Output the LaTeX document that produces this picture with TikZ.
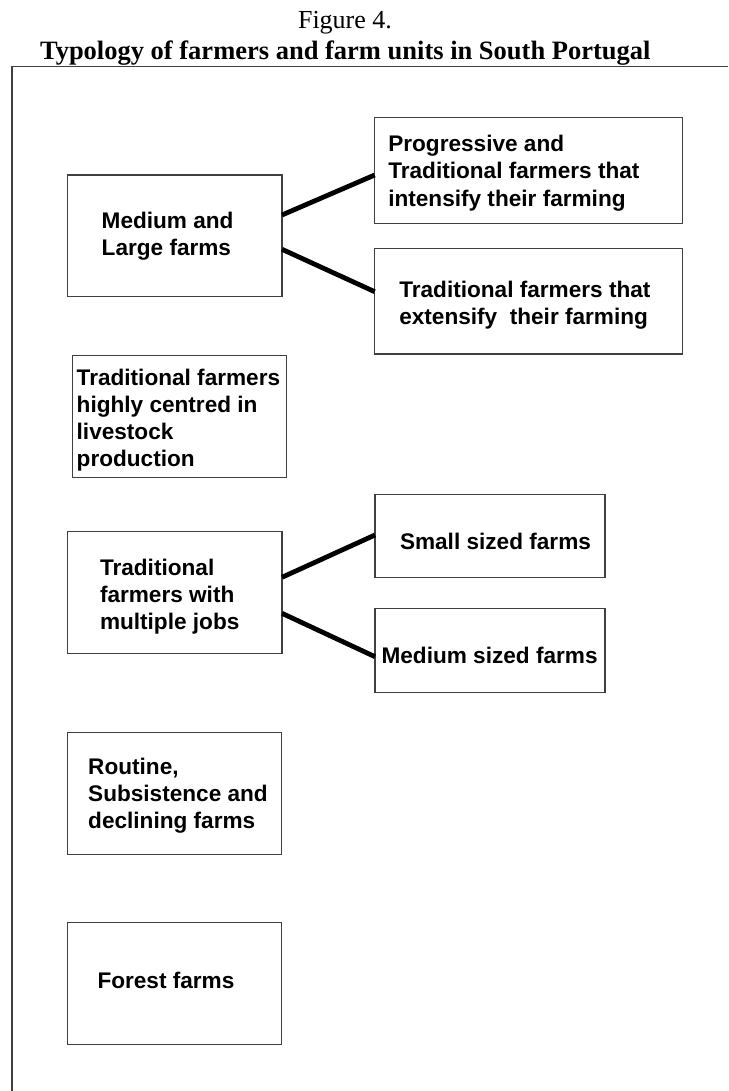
\documentclass[tikz,border=0pt]{standalone}
\usepackage{fontspec}
\setmainfont{Liberation Serif}
\newfontfamily\arialfont{Liberation Sans}
\usetikzlibrary{calc}
\tikzset{
  box/.style={draw=black!75, line width=1.3pt, rectangle, inner sep=0pt, outer sep=0pt},
  txt/.style={anchor=base west, inner sep=0pt, outer sep=0pt, align=left,
    font=\arialfont\bfseries\fontsize{22.6}{27.3}\selectfont},
  conn/.style={draw=black, line width=4.8pt},
  frameline/.style={draw=black!75, line width=1.3pt}
}
\begin{document}
\begin{tikzpicture}[x=1pt,y=-1pt]
\useasboundingbox (0,0) rectangle (728,1091);
% titles
\node[anchor=base, inner sep=0pt, font=\fontsize{26}{30}\selectfont] (fig) at (345,28.3) {Figure 4.};
\node[anchor=base, inner sep=0pt, font=\bfseries\fontsize{26.5}{30}\selectfont] (title) at (345.3,59.3) {Typology of farmers and farm units in South Portugal};
% frame
\draw[frameline] (12,1091) -- (12,66.5) -- (728,66.5);
% boxes
\node[box, minimum width=214.3pt, minimum height=121.7pt] (b1) at (174.85,235.85) {};
\node[box, minimum width=308pt, minimum height=106pt] (b2) at (528.7,170.3) {};
\node[box, minimum width=308pt, minimum height=105.7pt] (b3) at (528.7,301.15) {};
\node[box, minimum width=214.4pt, minimum height=122pt] (b4) at (179.5,416.3) {};
\node[box, minimum width=214.3pt, minimum height=121.6pt] (b5) at (174.85,592.5) {};
\node[box, minimum width=230pt, minimum height=83pt] (b6) at (490,536) {};
\node[box, minimum width=230pt, minimum height=83.6pt] (b7) at (490,650.5) {};
\node[box, minimum width=214pt, minimum height=122pt] (b8) at (174.8,793.3) {};
\node[box, minimum width=214pt, minimum height=122pt] (b9) at (174.8,983.7) {};
% texts (anchor = baseline of the last line)
\node[txt] (t1) at (101.7,255.6) {Medium and\\Large farms};
\node[txt] (t2) at (388.3,206.3) {Progressive and\\Traditional farmers that\\intensify their farming};
\node[txt] (t3) at (399.3,324.5) {Traditional farmers that\\extensify\ \ their farming};
\node[txt] (t4) at (76.7,466.9) {Traditional farmers\\highly centred in\\livestock\\production};
\node[txt] (t5) at (100,629.6) {Traditional\\farmers with\\multiple jobs};
\node[txt] (t6) at (400,549.3) {Small sized farms};
\node[txt] (t7) at (381.6,663.3) {Medium sized farms};
\node[txt] (t8) at (88.2,828.9) {Routine,\\Subsistence and\\declining farms};
\node[txt] (t9) at (97.5,988.3) {Forest farms};
% connectors
\draw[conn] ([yshift=20.85pt]b1.east) -- ([yshift=-4.7pt]b2.west);
\draw[conn] ([yshift=-13.45pt]b1.east) -- ([yshift=9.45pt]b3.west);
\draw[conn] ([yshift=15.2pt]b5.east) -- ([yshift=1pt]b6.west);
\draw[conn] ([yshift=-20.8pt]b5.east) -- ([yshift=-6.2pt]b7.west);
\end{tikzpicture}
\end{document}
